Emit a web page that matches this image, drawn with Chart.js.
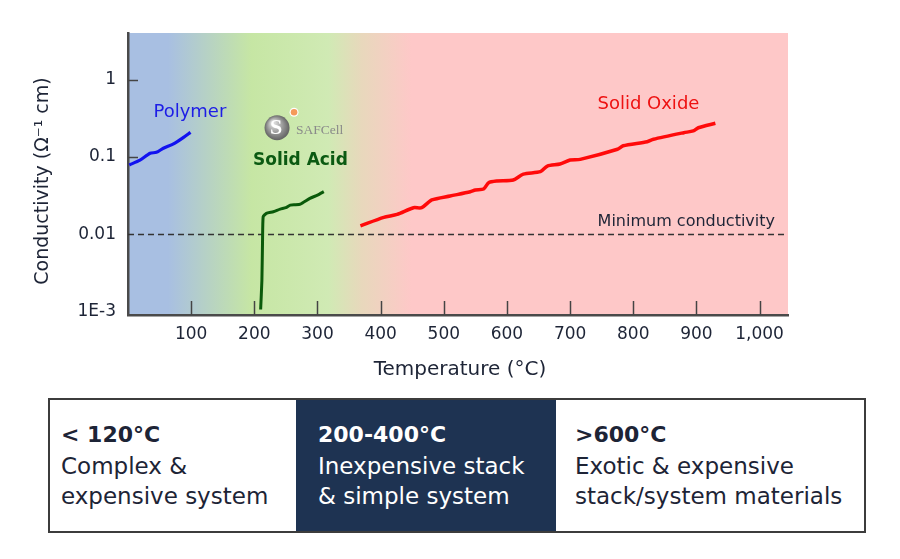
<!DOCTYPE html>
<html>
<head>
<meta charset="utf-8">
<script src="https://cdn.jsdelivr.net/npm/chart.js@4.4.1/dist/chart.umd.min.js"></script>
<style>
  html, body { margin:0; padding:0; background:#ffffff; }
  body { width:900px; height:559px; position:relative; overflow:hidden; font-family:'DejaVu Sans',sans-serif; }
  #wrap { position:absolute; left:0; top:0; width:900px; height:390px; }
  #box { position:absolute; left:48px; top:398px; width:814px; height:131px; border:2px solid #3c3c3c; }
  .cell { position:absolute; top:0; height:131px; color:#1d2436; }
  .cell div { position:absolute; white-space:nowrap; }
  .h { font-weight:700; font-size:22px; line-height:30px; top:20px; }
  .l1 { font-size:23px; line-height:30px; top:51px; }
  .l2 { font-size:23px; line-height:30px; top:81px; }
  #c1 { left:0; width:246px; }
  #c1 div { left:11px; }
  #c2 { left:246px; width:260px; background:#1e3352; color:#ffffff; }
  #c2 div { left:22px; }
  #c3 { left:506px; width:308px; }
  #c3 div { left:19px; }
</style>
</head>
<body>
<div id="wrap"><canvas id="chart" width="900" height="390"></canvas></div>
<div id="box">
  <div class="cell" id="c1"><div class="h">&lt; 120°C</div><div class="l1">Complex &amp;</div><div class="l2">expensive system</div></div>
  <div class="cell" id="c2"><div class="h">200-400°C</div><div class="l1">Inexpensive stack</div><div class="l2">&amp; simple system</div></div>
  <div class="cell" id="c3"><div class="h">&gt;600°C</div><div class="l1">Exotic &amp; expensive</div><div class="l2">stack/system materials</div></div>
</div>
<script>
// ---------------- data ----------------
const polymerTemp = [2, 19, 35, 45, 56, 72, 88, 99];
const polymerCond = [0.079, 0.091, 0.112, 0.115, 0.130, 0.148, 0.180, 0.209];

const acidTemp = [210, 212, 213, 214, 219, 230, 241, 250, 257, 265, 273, 288, 300, 310];
const acidCond = [0.00105, 0.0025, 0.008, 0.0168, 0.0186, 0.0195, 0.0211, 0.0220, 0.0238, 0.0240, 0.0245, 0.0291, 0.0320, 0.0355];

const oxideTemp = [368, 405, 426, 452, 465, 481, 510, 542, 550, 563, 571, 584, 610, 626, 653, 664, 684, 700, 716, 775, 784, 822, 832, 880, 895, 903, 930];
const oxideCond = [0.0128, 0.0165, 0.0180, 0.0220, 0.0220, 0.0277, 0.0312, 0.0354, 0.0373, 0.0384, 0.0464, 0.0488, 0.0503, 0.0601, 0.0645, 0.0764, 0.0811, 0.0915, 0.0933, 0.126, 0.140, 0.158, 0.170, 0.207, 0.218, 0.240, 0.274];

const xTicks = [100, 200, 300, 400, 500, 600, 700, 800, 900, 1000];
const xTickLabels = ['100', '200', '300', '400', '500', '600', '700', '800', '900', '1,000'];
const yTicks = [0.001, 0.01, 0.1, 1];
const yTickLabels = ['1E-3', '0.01', '0.1', '1'];

const xTitle = 'Temperature (°C)';
const yTitle = 'Conductivity (Ω⁻¹ cm)';
const minConductivity = 0.01;

// annotation anchors (data units)
const labelPolymer = { t: 98, s: 0.384, text: 'Polymer' };
const labelAcid = { t: 273, s: 0.0887, text: 'Solid Acid' };
const labelOxide = { t: 824, s: 0.488, text: 'Solid Oxide' };
const labelMin = { t: 884, s: 0.0143, text: 'Minimum conductivity' };
const logoAnchor = { t: 236, s: 0.24, text: 'SAFCell' };

// background bands (temperature, colour)
const bandStops = [
  [0, '#a8bfe2'], [63, '#a8bfe2'], [195, '#c6e6a4'], [317, '#d0eab4'],
  [370, '#e8d8bc'], [449, '#fec8c8'], [1045, '#fec8c8']
];

const FONT = "'DejaVu Sans',sans-serif";
const TXT = '#1d2436';
const toXY = (ts, ss) => ts.map((t, i) => ({ x: t, y: ss[i] }));

const decor = {
  id: 'decor',
  beforeDraw(chart) {
    const { ctx, chartArea: a, scales: { x } } = chart;
    const x0 = x.getPixelForValue(0), x1 = x.getPixelForValue(1045);
    const g = ctx.createLinearGradient(x0, 0, x1, 0);
    bandStops.forEach(([t, c]) => g.addColorStop(Math.min(1, Math.max(0, t / 1045)), c));
    ctx.save();
    ctx.fillStyle = g;
    ctx.fillRect(a.left, a.top, a.right - a.left, a.bottom - a.top);
    ctx.restore();
  },
  beforeDatasetsDraw(chart) {
    const { ctx, chartArea: a, scales: { x, y } } = chart;
    ctx.save();
    // min conductivity dashed line
    const yy = Math.round(y.getPixelForValue(minConductivity)) + 0.5;
    ctx.strokeStyle = '#333';
    ctx.lineWidth = 1.3;
    ctx.setLineDash([6, 4]);
    ctx.beginPath(); ctx.moveTo(a.left, yy); ctx.lineTo(a.right, yy); ctx.stroke();
    ctx.setLineDash([]);
    // inward tick marks
    ctx.strokeStyle = '#444';
    ctx.lineWidth = 1.5;
    xTicks.forEach(t => {
      const px = Math.round(x.getPixelForValue(t)) + 0.5;
      ctx.beginPath(); ctx.moveTo(px, a.bottom); ctx.lineTo(px, a.bottom - 14); ctx.stroke();
    });
    [0.1, 1].forEach(v => {
      const py = Math.round(y.getPixelForValue(v)) + 0.5;
      ctx.beginPath(); ctx.moveTo(a.left, py); ctx.lineTo(a.left + 10, py); ctx.stroke();
    });
    // logo
    const lx = x.getPixelForValue(logoAnchor.t), ly = y.getPixelForValue(logoAnchor.s);
    const rg = ctx.createRadialGradient(lx - 4, ly - 5, 2, lx, ly, 13);
    rg.addColorStop(0, '#d8d8d8'); rg.addColorStop(0.6, '#8f8f8f'); rg.addColorStop(1, '#5e5e5e');
    ctx.fillStyle = rg;
    ctx.beginPath(); ctx.arc(lx, ly, 12.5, 0, Math.PI * 2); ctx.fill();
    ctx.fillStyle = '#ffffff';
    ctx.font = "bold 22px 'Liberation Serif', serif";
    ctx.textAlign = 'center'; ctx.textBaseline = 'middle';
    ctx.fillText('S', lx - 1, ly + 1);
    ctx.beginPath(); ctx.arc(lx + 17, ly - 15.5, 4.5, 0, Math.PI * 2); ctx.fillStyle = '#ffffff'; ctx.fill();
    ctx.beginPath(); ctx.arc(lx + 17, ly - 15.5, 3.3, 0, Math.PI * 2); ctx.fillStyle = '#f59a5a'; ctx.fill();
    ctx.fillStyle = '#8a8a8a';
    ctx.font = "13.5px 'Liberation Serif', serif";
    ctx.textAlign = 'left'; ctx.textBaseline = 'alphabetic';
    ctx.fillText(logoAnchor.text, lx + 19, ly + 6);
    ctx.restore();
  },
  afterDatasetsDraw(chart) {
    const { ctx, chartArea: a, scales: { x, y } } = chart;
    ctx.save();
    ctx.textAlign = 'center'; ctx.textBaseline = 'middle';
    const put = (l, font, color) => {
      ctx.font = font; ctx.fillStyle = color;
      ctx.fillText(l.text, x.getPixelForValue(l.t), y.getPixelForValue(l.s));
    };
    put(labelPolymer, '18px ' + FONT, '#1d1de6');
    put(labelAcid, 'bold 17px ' + FONT, '#0b5a12');
    put(labelOxide, '18px ' + FONT, '#ee1111');
    put(labelMin, '16px ' + FONT, '#1d2436');
    // axis titles
    ctx.fillStyle = TXT;
    ctx.font = '20px ' + FONT;
    ctx.textBaseline = 'alphabetic';
    ctx.fillText(xTitle, (a.left + a.right) / 2 + 2, a.bottom + 60);
    ctx.save();
    ctx.translate(a.left - 85, (a.top + a.bottom) / 2 + 7);
    ctx.rotate(-Math.PI / 2);
    ctx.font = '19px ' + FONT;
    ctx.textBaseline = 'middle';
    ctx.fillText(yTitle, 0, 0);
    ctx.restore();
    ctx.restore();
  }
};

new Chart(document.getElementById('chart'), {
  type: 'line',
  data: {
    datasets: [
      { label: 'Polymer', data: toXY(polymerTemp, polymerCond), borderColor: '#1212f0', borderWidth: 3.2, pointRadius: 0, tension: 0.25 },
      { label: 'Solid Acid', data: toXY(acidTemp, acidCond), borderColor: '#0a5a0a', borderWidth: 3, pointRadius: 0, tension: 0.15 },
      { label: 'Solid Oxide', data: toXY(oxideTemp, oxideCond), borderColor: '#ff0a0a', borderWidth: 3.5, pointRadius: 0, tension: 0.25 }
    ]
  },
  options: {
    responsive: false,
    animation: false,
    layout: { padding: { left: 0, right: 112, top: 33, bottom: 0 } },
    plugins: { legend: { display: false }, tooltip: { enabled: false } },
    scales: {
      x: {
        type: 'linear', min: 0, max: 1045,
        afterBuildTicks: s => { s.ticks = xTicks.map(v => ({ value: v })); },
        afterFit: s => { s.height = 75; },
        grid: { display: false, drawTicks: false },
        border: { display: true, color: '#4a4a4a', width: 2.5 },
        ticks: { padding: 9, color: TXT, font: { family: FONT, size: 17 }, maxRotation: 0,
          callback: (v, i) => xTickLabels[i] },
        title: { display: false }
      },
      y: {
        type: 'logarithmic', min: 0.000891, max: 4.07,
        afterBuildTicks: s => { s.ticks = yTicks.map(v => ({ value: v })); },
        afterFit: s => { s.width = 128; },
        grid: { display: false, drawTicks: false },
        border: { display: true, color: '#4a4a4a', width: 2.5 },
        ticks: { padding: 12, color: TXT, font: { family: FONT, size: 17 },
          callback: (v, i) => yTickLabels[i] },
        title: { display: false }
      }
    }
  },
  plugins: [decor]
});
</script>
</body>
</html>
